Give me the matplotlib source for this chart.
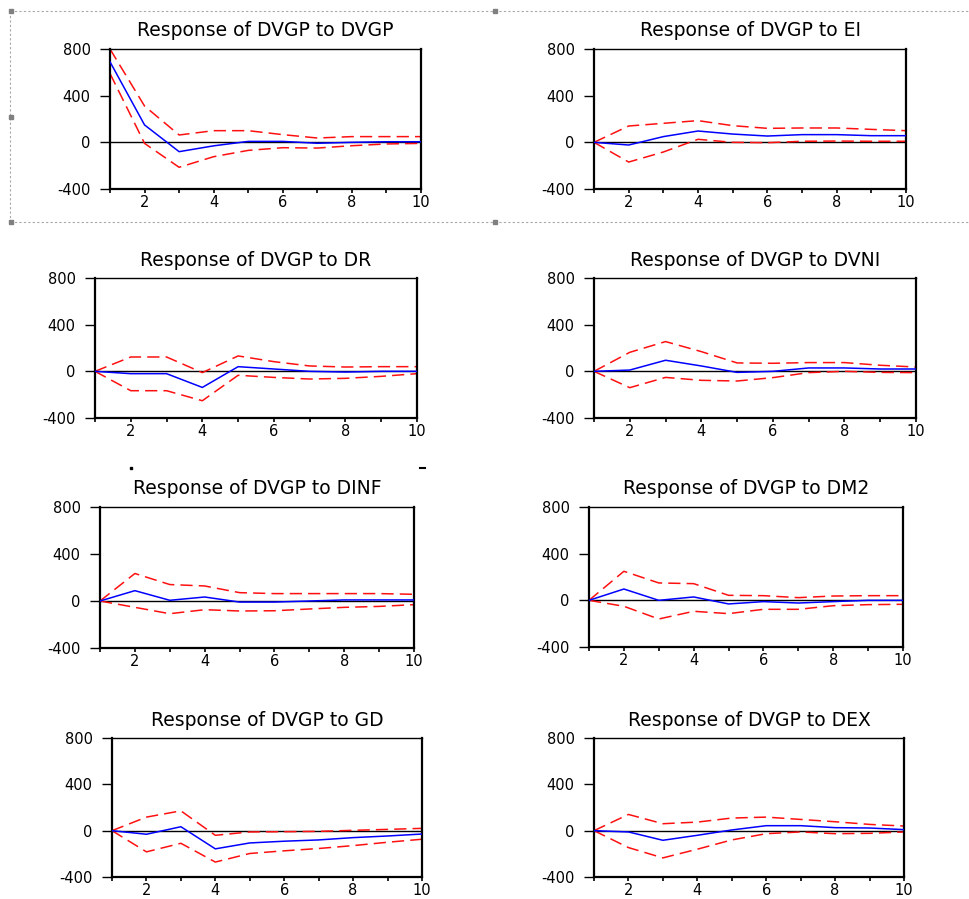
import numpy as np
import matplotlib
matplotlib.use("Agg")
import matplotlib.pyplot as plt
from matplotlib.ticker import FixedLocator

plt.rcParams['font.family'] = ['DejaVu Sans']

periods = np.arange(1, 11)
shocks = ["DVGP", "EI", "DR", "DVNI", "DINF", "DM2", "GD", "DEX"]

# impulse responses of DVGP (blue) with +/- 2 s.e. bands (red)
resp_dvgp = [690, 149, -80, -30, 8, 8, -8, 0, 5, 5]
upper_dvgp = [800, 311, 63, 100, 100, 66, 37, 49, 49, 49]
lower_dvgp = [590, -9, -214, -123, -69, -46, -49, -29, -14, -9]

resp_ei = [0, -23, 49, 97, 71, 54, 66, 66, 57, 57]
upper_ei = [0, 140, 163, 186, 143, 120, 123, 123, 111, 100]
lower_ei = [0, -169, -83, 26, 0, -3, 9, 11, 9, 9]

resp_dr = [0, -20, -20, -138, 40, 20, 0, -6, 0, 0]
upper_dr = [0, 123, 123, -11, 132, 83, 46, 37, 40, 40]
lower_dr = [0, -166, -166, -252, -34, -52, -66, -60, -43, -20]

resp_dvni = [0, 11, 95, 46, -9, 0, 29, 29, 20, 20]
upper_dvni = [0, 163, 255, 169, 72, 69, 75, 75, 52, 37]
lower_dvni = [0, -140, -52, -77, -83, -54, -11, 0, -9, -11]

resp_dinf = [0, 88, 6, 34, -9, -9, 0, 9, 9, 9]
upper_dinf = [0, 234, 140, 128, 71, 63, 63, 63, 63, 57]
lower_dinf = [0, -54, -108, -74, -85, -83, -68, -54, -46, -31]

resp_dm2 = [0, 97, 0, 29, -31, -11, -23, -11, 0, 0]
upper_dm2 = [0, 249, 149, 143, 43, 40, 23, 37, 40, 40]
lower_dm2 = [0, -51, -160, -94, -114, -77, -77, -46, -37, -34]

resp_gd = [0, -31, 34, -157, -106, -91, -80, -60, -46, -29]
upper_gd = [0, 117, 171, -40, -11, -9, -6, 3, 11, 20]
lower_gd = [0, -183, -109, -271, -197, -174, -154, -129, -100, -74]

resp_dex = [0, -11, -83, -40, 6, 43, 43, 26, 23, 9]
upper_dex = [0, 140, 60, 74, 109, 117, 97, 77, 54, 40]
lower_dex = [0, -146, -235, -160, -80, -26, -11, -26, -23, -11]

responses = [resp_dvgp, resp_ei, resp_dr, resp_dvni, resp_dinf, resp_dm2, resp_gd, resp_dex]
uppers = [upper_dvgp, upper_ei, upper_dr, upper_dvni, upper_dinf, upper_dm2, upper_gd, upper_dex]
lowers = [lower_dvgp, lower_ei, lower_dr, lower_dvni, lower_dinf, lower_dm2, lower_gd, lower_dex]

yticks = [-400, 0, 400, 800]
xlabels = [2, 4, 6, 8, 10]

W, H = 969, 899
# axes boxes in pixels: left, top, right, bottom (pasted panels are not perfectly aligned)
boxes = [
    (110, 49, 421, 189), (594, 49, 906, 189),
    (95, 278, 417, 418), (594, 278, 916, 418),
    (100, 507, 414, 648), (589, 507, 903, 647),
    (112, 738, 422, 877), (594, 738, 904, 877),
]

fig = plt.figure(figsize=(W / 100, H / 100), dpi=100)

# selection frame around the first panel (screenshot artifact)
ov = fig.add_axes([0, 0, 1, 1], zorder=-1)
ov.set_xlim(0, W)
ov.set_ylim(H, 0)
ov.axis("off")
gray = "#a8a8a8"
ov.plot([10, W], [11, 11], color=gray, lw=0.8, ls=(0, (2, 2)))
ov.plot([10, W], [222, 222], color=gray, lw=0.8, ls=(0, (2, 2)))
ov.plot([10, 10], [11, 222], color=gray, lw=0.8, ls=(0, (2, 2)))
for hx, hy in [(11, 11), (11, 117), (11, 222), (495, 11), (495, 222)]:
    ov.plot(hx, hy, marker="s", ms=3.5, color="#808080", mec="#808080")
ov.plot([131], [468], marker="s", ms=1.5, color="black")
ov.plot([420, 425], [468, 468], color="black", lw=1.5)

for i, name in enumerate(shocks):
    l, t, r, b = boxes[i]
    ax = fig.add_axes([l / W, 1 - b / H, (r - l) / W, (b - t) / H])
    ax.axhline(0, color="black", lw=1.0, zorder=1)
    ax.plot(periods, uppers[i], color="#ff1010", lw=1.1, ls=(0, (8, 4)), zorder=2)
    ax.plot(periods, lowers[i], color="#ff1010", lw=1.1, ls=(0, (8, 4)), zorder=2)
    ax.plot(periods, responses[i], color="#0000ff", lw=1.1, zorder=3)
    ax.set_xlim(1, 10)
    ax.set_ylim(-400, 800)
    ax.set_yticks(yticks)
    ax.set_yticklabels([str(v) for v in yticks])
    ax.xaxis.set_major_locator(FixedLocator(xlabels))
    ax.xaxis.set_minor_locator(FixedLocator([1, 3, 5, 7, 9]))
    ax.tick_params(axis="x", which="both", direction="out", length=3, width=1.2,
                   pad=1, labelsize=10.5)
    ax.tick_params(axis="y", direction="out", length=7, width=1.0,
                   pad=7, labelsize=10.5)
    for side in ["left", "right", "bottom"]:
        ax.spines[side].set_linewidth(1.6)
    ax.spines["top"].set_linewidth(1.0)
    ax.set_title("Response of DVGP to " + name, fontsize=13.5, pad=9)

fig.savefig("out.png", dpi=100)
